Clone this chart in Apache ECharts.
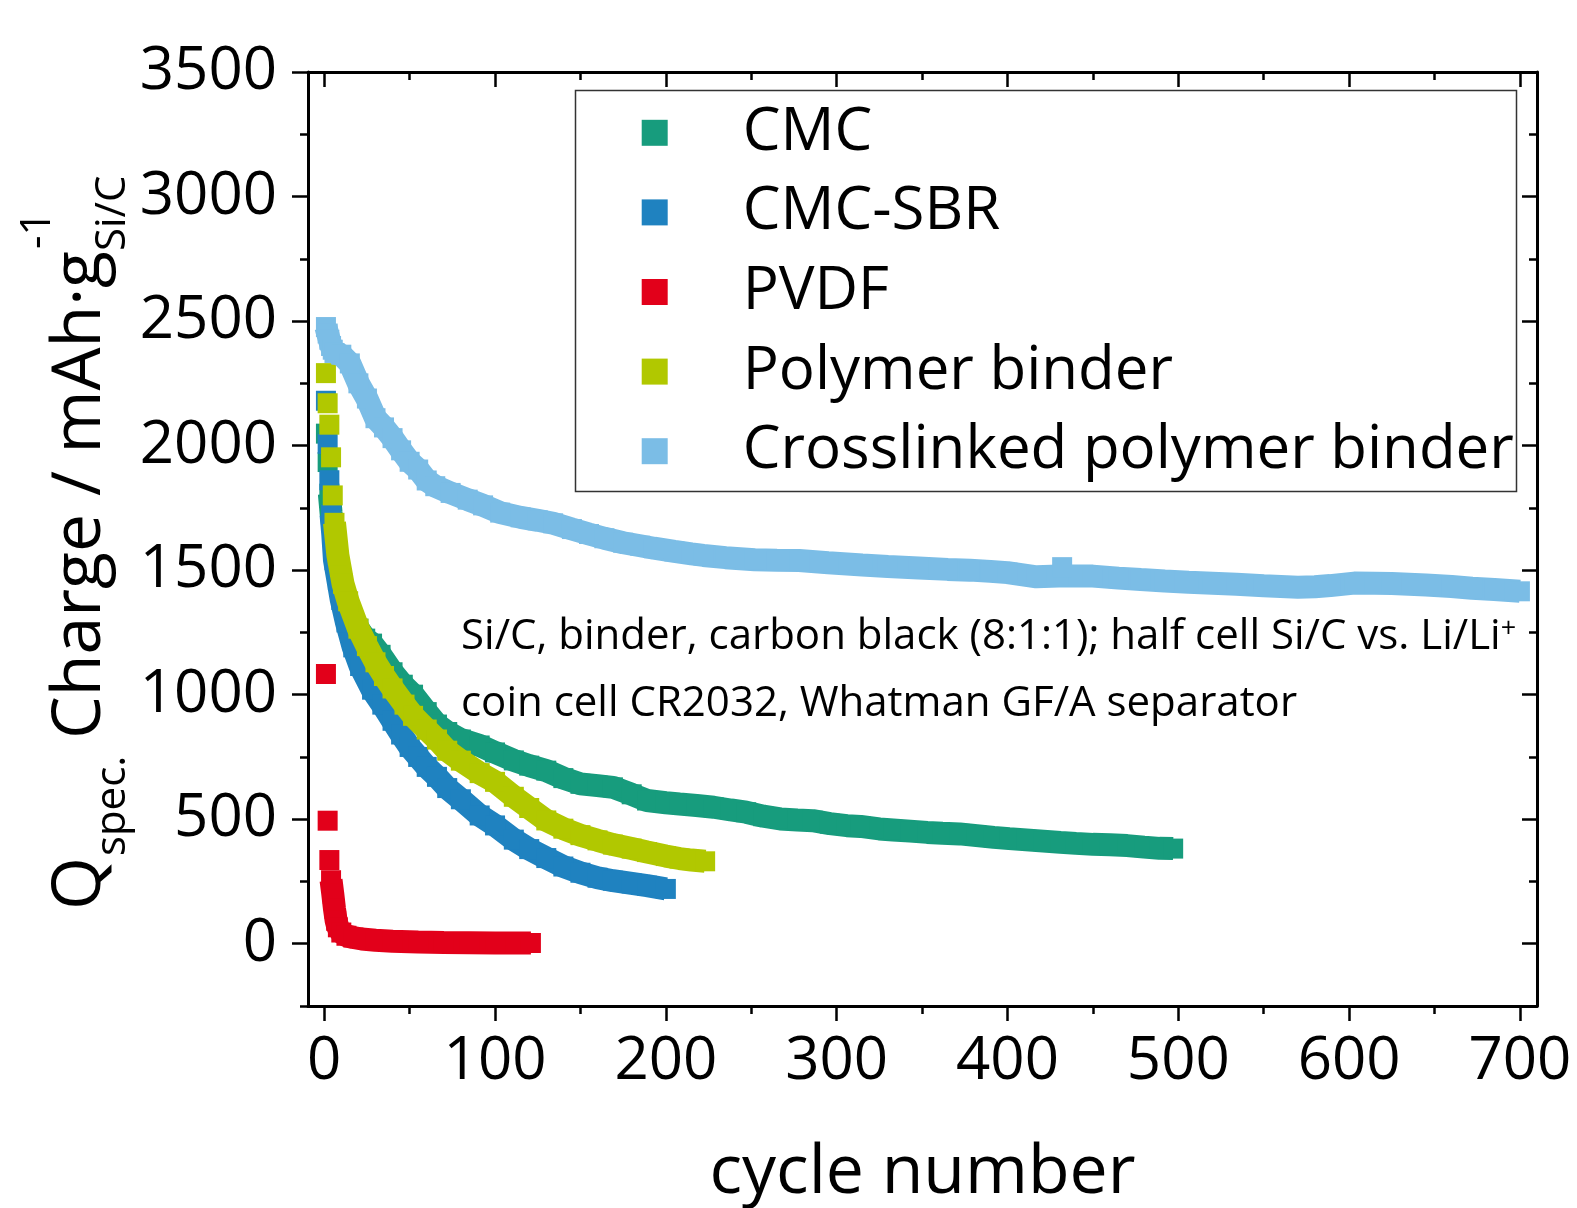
<!DOCTYPE html>
<html><head><meta charset="utf-8">
<script src="https://cdn.jsdelivr.net/npm/echarts@6/dist/echarts.min.js"></script>
<style>html,body{margin:0;padding:0;background:#fff}#c{width:1577px;height:1208px}</style>
</head><body><div id="c"></div>
<script>
// ---------- data (cycle, specific charge mAh/g) ----------
const seriesNames = ['CMC', 'CMC-SBR', 'PVDF', 'Polymer binder', 'Crosslinked polymer binder'];
const seriesColors = ['#179c7d', '#1f82c0', '#e2001a', '#b1c800', '#7bbde6'];

const cmcDots = [[1,2048],[2,1934]];
const cmcBand = [[3,1807],[4,1730],[6,1620],[8,1520],[10,1440],[14,1350],[20,1265],[24,1225],[28,1205],[33,1160],[40,1090],[46,1040],[52,1000],[60,930],[66,880],[72,850],[80,820],[91,796],[100,768],[111,736],[120,715],[130,695],[140,665],[150,642],[160,635],[169,628],[180,600],[189,575],[200,566],[208,561],[218,555],[228,548],[238,537],[247,528],[257,512],[267,501],[277,497],[286,494],[296,482],[306,474],[314,471],[325,461],[333,457],[343,452],[353,447],[362,444],[372,441],[382,434],[392,427],[401,422],[411,417],[421,412],[431,407],[440,403],[450,399],[460,397],[470,394],[480,388],[489,383],[497,382]];

const sbrDots = [[1,2180],[2,2007],[3,1861]];
const sbrBand = [[4,1722],[5,1644],[6,1540],[8,1460],[10,1380],[13,1290],[17,1190],[21,1115],[28,1020],[34,960],[40,895],[45,840],[50,790],[55,750],[60,710],[66,670],[72,625],[80,580],[91,515],[100,475],[111,418],[120,380],[130,344],[140,310],[150,285],[160,265],[169,253],[180,242],[189,233],[200,220]];

const pvdfDots = [[1,1083],[2,494],[3,336]];
const pvdfBand = [[4,255],[5,200],[6,140],[7,92],[8,66],[10,45],[13,32],[17,25],[22,19],[30,14],[40,10],[55,7],[70,5],[85,4],[100,3],[121,3]];

const polyDots = [[1,2291],[2,2170],[3,2084],[4,1953],[5,1800]];
const polyBand = [[6,1690],[8,1560],[11,1445],[14,1375],[20,1265],[25,1195],[30,1130],[35,1075],[40,1025],[47,960],[52,915],[60,860],[66,820],[72,775],[80,735],[91,685],[100,650],[111,590],[120,545],[130,495],[140,462],[150,436],[160,415],[169,398],[180,382],[189,368],[200,352],[208,342],[215,336],[223,331]];

const crossDots = [[432,1512]];
const crossBand = [[1,2476],[2,2450],[3,2425],[4,2400],[5,2385],[6,2372],[10,2365],[15,2330],[20,2250],[25,2189],[30,2110],[35,2073],[40,2030],[45,1981],[50,1935],[55,1904],[60,1860],[65,1837],[74,1810],[84,1783],[93,1760],[103,1731],[115,1712],[125,1700],[134,1688],[145,1665],[155,1645],[164,1628],[175,1610],[185,1598],[193,1588],[205,1575],[215,1565],[222,1559],[235,1550],[252,1542],[265,1540],[278,1539],[295,1530],[315,1521],[330,1515],[348,1509],[365,1503],[378,1500],[390,1495],[400,1490],[417,1473],[430,1476],[450,1476],[465,1468],[478,1462],[492,1456],[506,1451],[520,1447],[534,1443],[550,1437],[570,1431],[580,1433],[589,1438],[603,1448],[615,1447],[625,1446],[645,1440],[660,1434],[672,1427],[685,1422],[700,1415]];

const xMajor = [0,100,200,300,400,500,600,700];
const xMinor = [50,150,250,350,450,550,650];
const yMajor = [0,500,1000,1500,2000,2500,3000,3500];
const yMinor = [-250,250,750,1250,1750,2250,2750,3250];

const noteLine1 = 'Si/C, binder, carbon black (8:1:1); half cell Si/C vs. Li/Li';
const noteLine2 = 'coin cell CR2032, Whatman GF/A separator';
const xTitle = 'cycle number';

// ---------- chart ----------
const FONT = '"Open Sans", "Noto Sans", sans-serif';
const X_MIN = -9.5, X_MAX = 710, Y_MIN = -250, Y_MAX = 3500;
const chart = echarts.init(document.getElementById('c'), null, {renderer: 'canvas'});

function axisBase(extra) {
  return Object.assign({type: 'value', splitLine: {show: false}, axisLabel: {show: false},
    axisTick: {show: false}, axisLine: {show: false, onZero: false}}, extra);
}
const lineStyleAxis = {color: '#000', width: 3};
const tickStyle = {color: '#000', width: 2.5};

const xAxes = [
  axisBase({min: X_MIN, max: X_MAX, position: 'bottom',
    axisLine: {show: true, onZero: false, lineStyle: lineStyleAxis},
    axisTick: {show: true, customValues: xMajor, length: 15, lineStyle: tickStyle},
    axisLabel: {show: true, customValues: xMajor, fontSize: 60, fontFamily: FONT, color: '#000', margin: 26,
      formatter: v => String(v)},
    name: xTitle, nameLocation: 'middle', nameGap: 134,
    nameTextStyle: {fontSize: 68, fontFamily: FONT, color: '#000'}}),
  axisBase({min: X_MIN, max: X_MAX, position: 'bottom',
    axisTick: {show: true, customValues: xMinor, length: 8, lineStyle: tickStyle}}),
  axisBase({min: X_MIN, max: X_MAX, position: 'top',
    axisLine: {show: true, onZero: false, lineStyle: lineStyleAxis},
    axisTick: {show: true, inside: true, customValues: xMajor, length: 15, lineStyle: tickStyle}}),
  axisBase({min: X_MIN, max: X_MAX, position: 'top',
    axisTick: {show: true, inside: true, customValues: xMinor, length: 8, lineStyle: tickStyle}})
];
const yAxes = [
  axisBase({min: Y_MIN, max: Y_MAX, position: 'left',
    axisLine: {show: true, onZero: false, lineStyle: lineStyleAxis},
    axisTick: {show: true, customValues: yMajor, length: 16, lineStyle: tickStyle},
    axisLabel: {show: true, customValues: yMajor, fontSize: 60, fontFamily: FONT, color: '#000', margin: 31,
      formatter: v => String(v)}}),
  axisBase({min: Y_MIN, max: Y_MAX, position: 'left',
    axisTick: {show: true, customValues: yMinor, length: 8, lineStyle: tickStyle}}),
  axisBase({min: Y_MIN, max: Y_MAX, position: 'right',
    axisLine: {show: true, onZero: false, lineStyle: lineStyleAxis},
    axisTick: {show: true, inside: true, customValues: yMajor, length: 15, lineStyle: tickStyle}}),
  axisBase({min: Y_MIN, max: Y_MAX, position: 'right',
    axisTick: {show: true, inside: true, customValues: yMinor, length: 8, lineStyle: tickStyle}})
];

function dots(i, data) {
  return {type: 'scatter', name: seriesNames[i], data: data, xAxisIndex: 0, yAxisIndex: 0,
    symbol: 'rect', symbolSize: 20, itemStyle: {color: seriesColors[i], opacity: 1},
    emphasis: {disabled: true}, silent: true, z: 2 + i};
}
function band(i, data) {
  return {type: 'line', name: seriesNames[i], data: data, xAxisIndex: 0, yAxisIndex: 0,
    symbol: 'rect', symbolSize: 20, showSymbol: true, showAllSymbol: true,
    itemStyle: {color: seriesColors[i], opacity: 1},
    lineStyle: {color: seriesColors[i], width: 23, join: 'bevel', cap: 'butt'},
    emphasis: {disabled: true}, silent: true, z: 2 + i};
}

// y-axis title made from rotated text pieces (sub/superscripts)
const ctx = document.createElement('canvas').getContext('2d');
function tw(t, size) { ctx.font = size + 'px ' + FONT; return ctx.measureText(t).width; }
const F = 68, f = 42, K = 0.285;
function piece(text, x, baseline, size) {
  return {type: 'text', x: x, y: baseline - K * size,
    style: {text: text, fontSize: size, fontFamily: FONT, fill: '#000', align: 'left', verticalAlign: 'middle'}};
}
const mainA = 'Q', subA = 'spec.', mainB = ' Charge / mAh\u00b7g', supB = '-1', subB = 'Si/C';
const x1 = tw(mainA, F);
const x2 = x1 + tw(subA, f);
const x3 = x2 + tw(mainB, F);
const yTitle = {type: 'group', x: 100, y: 910, rotation: Math.PI / 2, children: [
  piece(mainA, 0, 0, F),
  piece(subA, x1 + 1, 25, f),
  piece(mainB, x2, 0, F),
  piece(supB, x3 + 2, -50, f),
  piece(subB, x3, 25, f)
]};

const option = {
  animation: false,
  backgroundColor: '#fff',
  grid: {left: 308, top: 72, width: 1229, height: 934, containLabel: false, outerBoundsMode: 'none'},
  legend: {
    orient: 'vertical', left: 641.7, top: 100.3, padding: 0, itemGap: 14.6,
    itemWidth: 26, itemHeight: 26, icon: 'rect', selectedMode: false,
    data: seriesNames.map(n => ({name: n, icon: 'rect'})),
    textStyle: {fontSize: 60, fontFamily: FONT, color: '#000', lineHeight: 60, padding: [5, 0, 0, 70]}
  },
  xAxis: xAxes,
  yAxis: yAxes,
  series: [
    dots(0, cmcDots), band(0, cmcBand),
    dots(1, sbrDots), band(1, sbrBand),
    dots(2, pvdfDots), band(2, pvdfBand),
    dots(3, polyDots), band(3, polyBand),
    band(4, crossBand), dots(4, crossDots)
  ],
  graphic: [
    {type: 'rect', shape: {x: 575.5, y: 90.5, width: 941, height: 401}, z: 1,
      style: {fill: '#fff', stroke: '#333', lineWidth: 1.5}},
    {type: 'text', x: 461, y: 637, z: 20,
      style: {text: noteLine1 + '{sup|+}', fontSize: 42, fontFamily: FONT, fill: '#000', verticalAlign: 'middle',
        rich: {sup: {fontSize: 27, fontFamily: FONT, fill: '#000', verticalAlign: 'top', lineHeight: 27, padding: [0, 0, 24, 0]}}}},
    {type: 'text', x: 461, y: 704, z: 20,
      style: {text: noteLine2, fontSize: 42, fontFamily: FONT, fill: '#000', verticalAlign: 'middle'}},
    Object.assign(yTitle, {z: 20})
  ]
};
chart.setOption(option);
</script>
</body></html>
